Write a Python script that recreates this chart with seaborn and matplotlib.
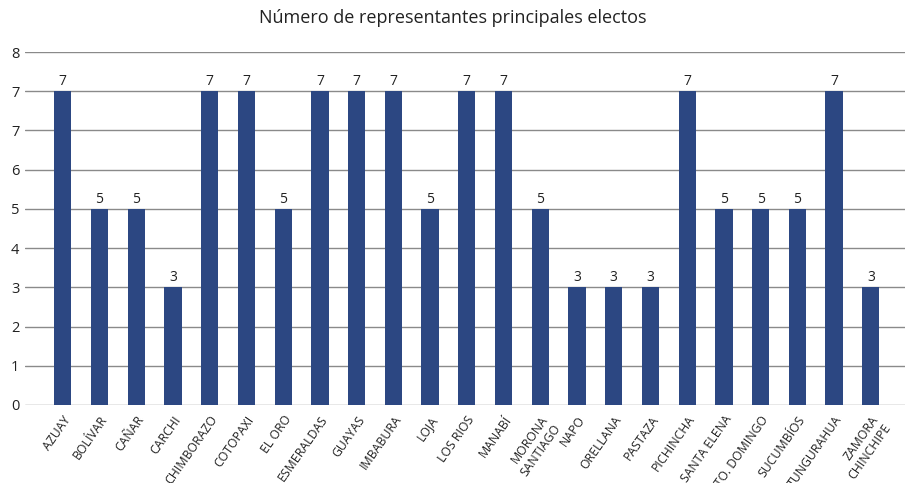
import numpy as np
import matplotlib
matplotlib.use("Agg")
import matplotlib.pyplot as plt
import seaborn as sns

provincias = ["AZUAY", "BOLÍVAR", "CAÑAR", "CARCHI", "CHIMBORAZO", "COTOPAXI",
              "EL ORO", "ESMERALDAS", "GUAYAS", "IMBABURA", "LOJA", "LOS RIOS",
              "MANABÍ", "MORONA\nSANTIAGO", "NAPO", "ORELLANA", "PASTAZA",
              "PICHINCHA", "SANTA ELENA", "STO. DOMINGO", "SUCUMBÍOS",
              "TUNGURAHUA", "ZAMORA\nCHINCHIPE"]
representantes = [7, 5, 5, 3, 7, 7, 5, 7, 7, 7, 5, 7, 7, 5, 3, 3, 3, 7, 5, 5, 5, 7, 3]

# the original axis is labelled 0,1,...,6,7,7,8 with the 7 bars on the upper "7"
eje_valores = [0, 1, 2, 3, 4, 5, 6, 6.5, 7, 8]
eje_etiquetas = ["0", "1", "2", "3", "4", "5", "6", "7", "7", "8"]
eje_pos = [0, 1, 2, 3, 4, 5, 6, 7, 8, 9]

def fwd(v):
    return np.interp(v, eje_valores, eje_pos)

def inv(p):
    return np.interp(p, eje_pos, eje_valores)

sns.set_style("white")
plt.rcParams["font.family"] = ["Open Sans", "DejaVu Sans"]

fig = plt.figure(figsize=(9.06, 4.83), dpi=100)
ax = fig.add_axes([25 / 906, 1 - 405 / 483, 880 / 906, 353 / 483])

ax.set_yscale("function", functions=(fwd, inv))
sns.barplot(x=list(range(len(provincias))), y=representantes, color="#2c4782",
            saturation=1, width=0.47, linewidth=0, ax=ax)
for p in ax.patches:
    p.set_zorder(3)

for i, v in enumerate(representantes):
    ax.annotate(str(v), (i, v), xytext=(0, 1.5), textcoords="offset points",
                ha="center", va="bottom", fontsize=10, color="#222222", zorder=4)

ax.set_ylim(0, 8)
ax.set_yticks(eje_valores)
ax.set_yticklabels(eje_etiquetas, fontsize=10.5, color="#222222")
ax.set_xlim(-1.03, 22.93)
ax.set_xticks(range(len(provincias)))
ax.set_xticklabels(provincias, rotation=55, ha="right", rotation_mode="anchor",
                   fontsize=8.8, color="#222222", linespacing=1.15)
ax.tick_params(axis="x", length=0, pad=6)
ax.tick_params(axis="y", length=0, pad=4)
ax.grid(axis="y", color="#8a8a8a", linewidth=1, zorder=0)
ax.set_axisbelow(True)
for s in ax.spines.values():
    s.set_visible(False)

fig.text(0.5, 1 - 18 / 483, "Número de representantes principales electos",
         ha="center", va="center", fontsize=13, color="#222222")

fig.savefig("out.png", dpi=100)
